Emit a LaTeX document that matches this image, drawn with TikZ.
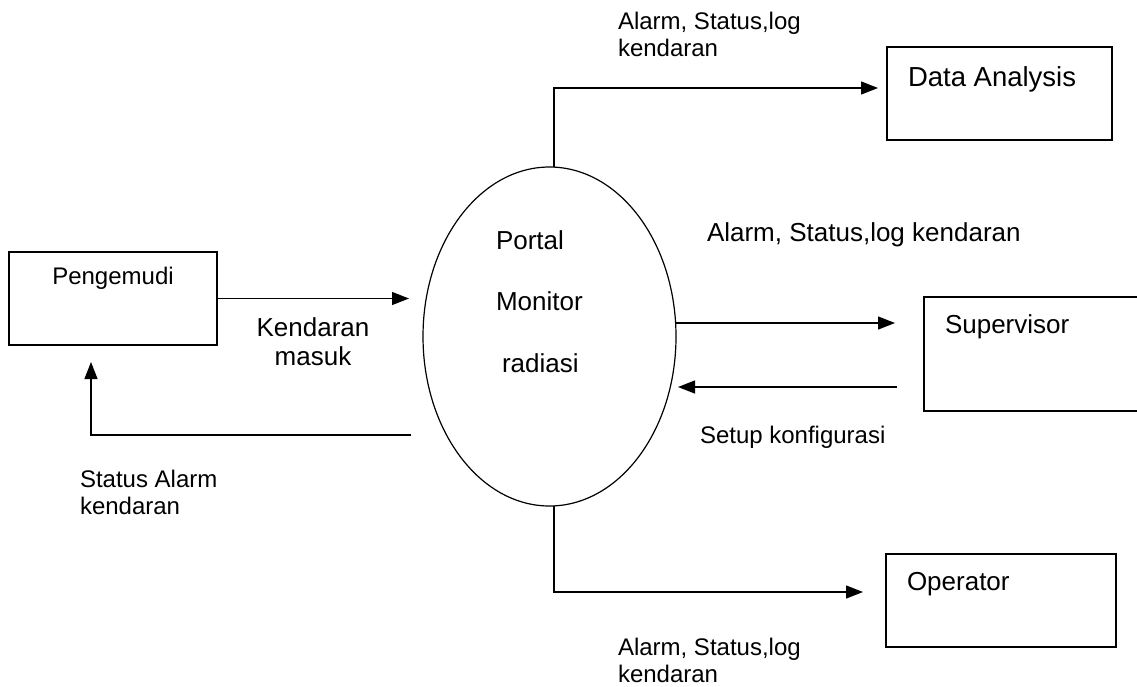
\documentclass[tikz,border=0pt]{standalone}
\usepackage{fontspec}
\setmainfont{Liberation Sans}
\usetikzlibrary{arrows.meta,shapes.geometric}
\begin{document}
\begin{tikzpicture}[x=1pt,y=-1pt,
  box/.style={draw,line width=1.2pt,rectangle,inner sep=0pt,outer sep=0pt},
  txt/.style={inner sep=0pt,outer sep=0pt,align=left,font=\fontsize{24}{27}\selectfont},
  bigtxt/.style={inner sep=0pt,outer sep=0pt,align=left,font=\fontsize{26}{29}\selectfont},
  flow/.style={line width=1.3pt,-{Triangle[length=17pt,width=13pt]}},
]
\useasboundingbox (0,0) rectangle (1137,686);
\clip (0,0) rectangle (1137,686);

% external entities and the central process
\node[box,minimum width=208pt,minimum height=93pt] (peng) at (113,298.5) {};
\node[box,minimum width=225pt,minimum height=93pt] (da) at (999.5,93.5) {};
\node[box,minimum width=226pt,minimum height=114pt] (sup) at (1037,354) {};
\node[box,minimum width=230pt,minimum height=93pt] (op) at (1001,600.5) {};
\node[draw,ellipse,line width=1.2pt,minimum width=253pt,minimum height=339pt,inner sep=0pt,outer sep=0pt] (ell) at (549.5,336.5) {};

% texts inside the shapes
\node[txt,anchor=base] (pengT) at (113,284) {Pengemudi};
\node[txt,anchor=base west,font=\fontsize{27.5}{30}\selectfont] (daT) at (908,86) {Data Analysis};
\node[bigtxt,anchor=base west] (supT) at (945,333) {Supervisor};
\node[bigtxt,anchor=base west] (opT) at (907,590) {Operator};
\node[bigtxt,anchor=base west] (ellT1) at (496,249) {Portal};
\node[bigtxt,anchor=base west] (ellT2) at (496,310) {Monitor};
\node[bigtxt,anchor=base west] (ellT3) at (502,372) {radiasi};

% data flows
\draw[flow,shorten >=9pt] ([xshift=4.5pt]ell.north) |- ([yshift=5.5pt]da.west);
\draw[flow,shorten >=14pt] (peng.east) -- (peng.east -| ell.west);
\draw[flow,shorten >=17pt] ([xshift=-12pt,yshift=-98.5pt]ell.west) -| ([xshift=-22pt]peng.south);
\draw[flow,shorten >=29pt] ([yshift=13.5pt]ell.east) -- ([yshift=31pt]sup.west);
\draw[flow,shorten <=27pt,shorten >=2pt] ([yshift=-33pt]sup.west) -- ([yshift=-50.5pt]ell.east);
\draw[flow,shorten >=23pt] ([xshift=4.5pt]ell.south) |- ([yshift=8.5pt]op.west);

% flow labels (base anchor sits on the last line)
\node[txt,anchor=base west] (lTop) at (618,56) {Alarm, Status,log\\kendaran};
\node[bigtxt,anchor=base west] (lMid) at (707,241) {Alarm, Status,log kendaran};
\node[bigtxt,anchor=base,align=center] (lIn) at (313,365) {Kendaran\\masuk};
\node[txt,anchor=base west] (lSetup) at (700,443) {Setup konfigurasi};
\node[txt,anchor=base west] (lBack) at (80,514) {Status Alarm\\kendaran};
\node[txt,anchor=base west] (lBot) at (618,682) {Alarm, Status,log\\kendaran};
\end{tikzpicture}
\end{document}
